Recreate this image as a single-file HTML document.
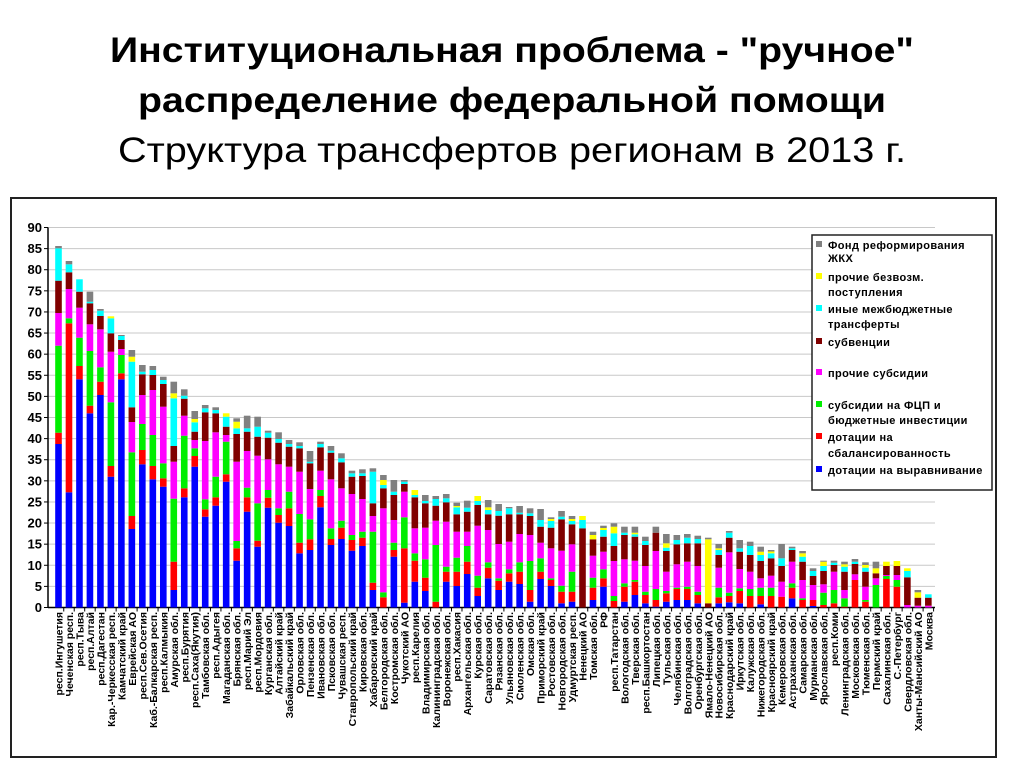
<!DOCTYPE html>
<html><head><meta charset="utf-8"><style>
html,body{margin:0;padding:0;background:#fff;width:1024px;height:768px;overflow:hidden}
svg{display:block}
</style></head><body>
<svg id="s" width="1024" height="768" xmlns="http://www.w3.org/2000/svg" font-family="Liberation Sans, sans-serif">
<text x="512" y="62" text-anchor="middle" font-size="35" font-weight="bold" textLength="804" lengthAdjust="spacingAndGlyphs">Институциональная проблема - "ручное"</text>
<text x="512" y="112" text-anchor="middle" font-size="35" font-weight="bold" textLength="748" lengthAdjust="spacingAndGlyphs">распределение федеральной помощи</text>
<text x="512" y="162" text-anchor="middle" font-size="35" textLength="788" lengthAdjust="spacingAndGlyphs">Структура трансфертов регионам в 2013 г.</text>
<rect x="11" y="198" width="985" height="559" fill="none" stroke="#222" stroke-width="2"/>
<g id="grid"></g>
<g id="bars"></g>
<g id="labels" font-size="10.5" font-weight="bold"></g>
<rect x="812" y="235" width="180" height="255" fill="#fff" stroke="#222" stroke-width="1.5"/>
<g font-size="11" font-weight="bold" fill="#000" letter-spacing="0.4">
<rect x="816" y="241" width="6" height="6" fill="#808080"/><text x="828" y="249">Фонд реформирования</text><text x="828" y="262">ЖКХ</text>
<rect x="816" y="273" width="6" height="6" fill="#ffff00"/><text x="828" y="281">прочие безвозм.</text><text x="828" y="296">поступления</text>
<rect x="816" y="305" width="6" height="6" fill="#00ffff"/><text x="828" y="313">иные межбюджетные</text><text x="828" y="328">трансферты</text>
<rect x="816" y="338" width="6" height="6" fill="#800000"/><text x="828" y="346">субвенции</text>
<rect x="816" y="369" width="6" height="6" fill="#ff00ff"/><text x="828" y="377">прочие субсидии</text>
<rect x="816" y="401" width="6" height="6" fill="#00ee00"/><text x="828" y="409">субсидии на ФЦП и</text><text x="828" y="424">бюджетные инвестиции</text>
<rect x="816" y="433" width="6" height="6" fill="#ff0000"/><text x="828" y="441">дотации на</text><text x="828" y="457">сбалансированность</text>
<rect x="816" y="466" width="6" height="6" fill="#0000ff"/><text x="828" y="474">дотации на выравнивание</text>
</g>
</svg>
<script>
var NS="http://www.w3.org/2000/svg";
function el(t,a,p,txt){var e=document.createElementNS(NS,t);for(var k in a)e.setAttribute(k,a[k]);if(txt!==undefined)e.textContent=txt;p.appendChild(e);return e;}
var y0=607.5,u=380/90;
var grid=document.getElementById('grid');
for(var v=0;v<=90;v+=5){var y=y0-v*u;
 if(v>0)el('line',{x1:48,x2:935,y1:y,y2:y,stroke:'#c8c8c8','stroke-width':1},grid);
 el('line',{x1:44,x2:48,y1:y,y2:y,stroke:'#000'},grid);
 el('text',{x:42,y:y+4.5,'text-anchor':'end','font-size':13,'font-weight':'bold'},grid,String(v));}
el('line',{x1:48,x2:48,y1:y0-90*u,y2:y0,stroke:'#000','stroke-width':1.5},grid);
el('line',{x1:48,x2:935,y1:y0,y2:y0,stroke:'#000','stroke-width':1.5},grid);
var C={b:'#0000ff',r:'#ff0000',g:'#00ee00',m:'#ff00ff',d:'#800000',c:'#00ffff',y:'#ffff00',k:'#808080'};
var D=[
"b444 r432.7 g345.7 m313 d280.7 c248.3 k246",
"b492.3 r323.3 g318.3 m289 d272.3 c264.3 k261",
"b379.3 r366 g337.7 m307.7 d291.7 c279.3",
"b413.3 r405.7 g351 m324.3 d303.3 c301.7 k291.7",
"b395 r381.7 g367.3 m329.3 d316 c310.7 k309",
"b476.7 r466 g402.3 m351.7 d333.3 c318.3 y316.3",
"b379.3 r373.3 g355 m349 d340 c336 k335",
"b529 r516 g452.3 m422 d407.3 c361.7 y356.7 k350",
"b464.3 r450 g424 m395 d374.3 c371.7 k365",
"b479.3 r466 g435 m390 d375 c370 k366",
"b486.7 r478.3 g463.3 m406.7 d384 c380 k376.7",
"b590 r561.7 g498.7 m461.7 d446 c398.3 y393.3 k381.7",
"b497.3 r488.3 g435.7 m415.7 d398.7 c395.7 k389.3",
"b466.7 r456 g448.3 m440 d431.7 c422.3 y419 k411",
"b516.7 r509.3 g499.3 m441 d412.3 c408.3 k405",
"b505.7 r497.3 g476.7 m432.3 d413.3 c410 k407.3",
"b481.7 r474.3 g441.7 m435 d426.7 c416.7 y413.3",
"b560.7 r548.3 g541 m461.7 d434 c428.3 y421.7 k418.3",
"b511.7 r497.3 g487.7 m451 d431.7 c428.3 k415.7",
"b546.7 r540.7 g503.3 m455.7 d436.7 c426.7 k416.7",
"b507.7 r497.7 g490 m459.3 d437.7 c432.7 k430.7",
"b522.7 r515 g508.3 m464.3 d442.7 c439 k432.3",
"b526 r508.3 g491.7 m466.7 d446.7 c444 k440",
"b553.3 r542.7 g514 m471.7 d448.3 c446 k442.3",
"b550 r539.3 g519.3 m489 d463.3 c461.7 k451",
"b507.3 r496 g490 m470.7 d447.3 c444 k441.7",
"b545 r539 g528.3 m479.3 d452.7 c450.7 k446",
"b539 r527.7 g520.7 m488.3 d462.3 c458.3 k453.3",
"b550.7 r540 g535 m494 d476.7 c473.3 k470.7",
"b546 r537.7 g531.7 m499 d476 c473.3 k469.3",
"b590 r582.7 g531.7 m516 d503.3 c471.7 k468.3",
"r597.3 g592.3 m508.3 d488.3 c485 y480 k475",
"b556.7 r550 g542.7 m520 d495 c491.7 k480",
"b602.7 r548.3 g517.3 m491.7 d484 c481.7 k480",
"b581.7 r560.7 g553.3 m528.3 d497.3 c495 y490",
"b591 r577.7 g559.3 m527.7 d503.3 c501 k495",
"r601.7 g545 m520.7 d505.7 c499 k496",
"b581.7 r571.7 g566.7 m521.7 d502.3 c498.3 k494",
"b586 r571.7 g557.7 m531.7 d514.3 c507.3 y506 k502.7",
"b574 r561.7 g546 m531.7 d511.7 c507.7 k500.7",
"b596 r587.7 g575.7 m525.7 d505 c501 y496",
"b578.3 r567.7 g562.3 m530 d514.3 c510 y507.3 k500",
"b590 r580.7 g578.3 m544 d515.7 c511 k504",
"b581.7 r573.3 g569.3 m541.7 d514.3 c508.3 k507",
"b584 r571.7 g562.3 m534 d514.3 c512.7 k506",
"b601.7 r590 g561 m535 d516 c513.3 k508.3",
"b579 r571.7 g558.3 m542.7 d526.7 c520 k509",
"b586 r580 g578.3 m548.3 d527.7 c521 y519 k517.3",
"b603.3 r591.7 g585.7 m550.7 d519.3 c516.7 k511",
"b601.7 r591.7 g571.7 m544.3 d524.3 c521 y519 k516",
"d528.3 c520 y516",
"b600 r587.7 g577.7 m555.7 d539.3 y535 k531.7",
"b586.7 r578.3 g569.3 m551.7 d536.7 c530 y528 k525.7",
"r601 g596 m561 d546 c533.3 y526.7 k523.3",
"b601.7 r586.7 g583.3 m559.3 d535 c532.7 k526.7",
"b595 r581.7 g580 m560.7 d536.7 c534.3 y532.7 k526.7",
"b603.3 r595 g591.7 m566 d545 c541 k536.7",
"b606.7 r600 g589 m551 d532.7 k526.7",
"b601.7 r593.3 g591 m571.7 d551 c547.7 y543.3 k534",
"b600 r589 g587.7 m564.3 d544.3 c540 k535",
"b600 r589 g586.7 m561.7 d543.3 c537.7 k534",
"b603.3 r595 g591.7 m566 d543.3 c539 k535.7",
"d603.3 y539.3 k537.7",
"b603.3 r597.3 g587.7 m567.7 d555 c550 y548.3 k544",
"b602.3 r596 g592.7 m552.3 d537.7 c532.7 k531",
"b603.3 r591 g588.3 m569 d551.7 c548.3 k540",
"r596 g589 m571.7 d555 c546 k541.7",
"b604.3 r596 g587.7 m578.3 d561 c555 y551.7 k546.7",
"r596 g587.7 m575.7 d558.3 c553.3 y551.5 k550",
"r596.7 m581.7 d566 c558.3 k544",
"b598.3 r587.7 g583.3 m561.7 d550 c548.3 k546.7",
"r600 g598.3 m580 d561.7 c556.7 y553.3 k551",
"b606 r600 m585 d576 c571 k568.3",
"r605 g592.7 m584.3 d571 c566 y561.7 k560.7",
"r603.3 g590 m571.7 d565 c562.7 k560.7",
"r606.7 g598.3 m590 d571.7 c566.7 y564.3 k561.7",
"r580 m574.3 d564 c561.7 k559",
"r601.7 g600 m586.7 d571.7 c567.7 y565 k562.3",
"g585 m578.3 d573.3 y568.3 k561.7",
"r579 g576 m575 d566 y561.7",
"r586.7 g580 m575 d566 y561",
"m605 d577.3 c571 y568.3",
"m605.7 d597.7 y592.3 k590",
"m605.7 d597.7 c594.3"];
var L=["респ.Ингушетия","Чеченская респ.","респ.Тыва","респ.Алтай","респ.Дагестан","Кар.-Черкесская респ.","Камчатский край","Еврейская АО","респ.Сев.Осетия","Каб.-Балкарская респ.","респ.Калмыкия","Амурская обл.","респ.Бурятия","респ.Саха(Якутия)","Тамбовская обл.","респ.Адыгея","Магаданская обл.","Брянская обл.","респ.Марий Эл","респ.Мордовия","Курганская обл.","Алтайский край","Забайкальский край","Орловская обл.","Пензенская обл.","Ивановская обл.","Псковская обл.","Чувашская респ.","Ставропольский край","Кировская обл.","Хабаровский край","Белгородская обл.","Костромская обл.","Чукотский АО","респ.Карелия","Владимирская обл.","Калининградская обл.","Воронежская обл.","респ.Хакасия","Архангельская обл.","Курская обл.","Саратовская обл.","Рязанская обл.","Ульяновская обл.","Смоленская обл.","Омская обл.","Приморский край","Ростовская обл.","Новгородская обл.","Удмуртская респ.","Ненецкий АО","Томская обл.","РФ","респ.Татарстан","Вологодская обл.","Тверская обл.","респ.Башкортостан","Липецкая обл.","Тульская обл.","Челябинская обл.","Волгоградская обл.","Оренбургская обл.","Ямало-Ненецкий АО","Новосибирская обл.","Краснодарский край","Иркутская обл.","Калужская обл.","Нижегородская обл.","Красноярский край","Кемеровская обл.","Астраханская обл.","Самарская обл.","Мурманская обл.","Ярославская обл.","респ.Коми","Ленинградская обл.","Московская обл.","Тюменская обл.","Пермский край","Сахалинская обл.","С.-Петербург","Свердловская обл.","Ханты-Мансийский АО","Москва"];
var bars=document.getElementById('bars'),lab=document.getElementById('labels');
for(var i=0;i<D.length;i++){var cx=58.5+10.48*i,prev=y0;
 D[i].split(' ').forEach(function(s){var c=C[s[0]],t=parseFloat(s.slice(1));
  if(t<prev){el('rect',{x:cx-3.3,y:t,width:6.6,height:prev-t,fill:c},bars);prev=t;}});
 el('line',{x1:cx+5.24,x2:cx+5.24,y1:y0,y2:y0+4,stroke:'#000'},grid);
 el('text',{x:0,y:0,'text-anchor':'end',transform:'translate('+(cx+4)+',612) rotate(-90)'},lab,L[i]);}
</script>
</body></html>
